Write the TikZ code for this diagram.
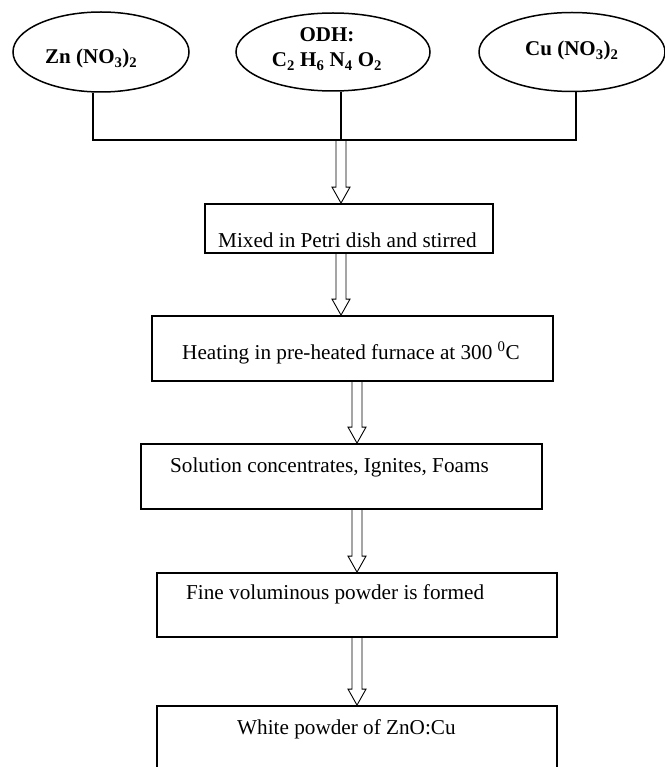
\documentclass[tikz,border=0pt]{standalone}
\usepackage{fontspec}
\setmainfont{Liberation Serif}
\usetikzlibrary{shapes.geometric,calc}

\begin{document}
\begin{tikzpicture}[
    x=1pt, y=-1pt,
    font=\fontsize{21.2}{25}\selectfont,
    reagent/.style={
        ellipse,
        draw,
        line width=1.5pt,
        inner sep=0pt
    },
    box/.style={
        rectangle,
        draw,
        line width=1.8pt,
        inner sep=0pt
    },
    txt/.style={
        anchor=base west,
        inner sep=0pt
    },
    bus/.style={
        line width=1.3pt
    },
    hollow/.style={
        line width=0.9pt,
        to path={
            let \p1=(\tikztostart), \p2=(\tikztotarget) in
            (\x1-5pt,\y1) -- (\x1-5pt,\y2+16pt) -- (\x1-9pt,\y2+16pt)
            -- (\x1,\y2) -- (\x1+9pt,\y2+16pt) -- (\x1+5pt,\y2+16pt)
            -- (\x1+5pt,\y1)
        }
    }
]
\useasboundingbox (0,0) rectangle (664,767);

% starting materials
\node[reagent, minimum width=176pt, minimum height=80pt] (zn) at (101,52) {};
\node[reagent, minimum width=194pt, minimum height=78pt] (odh) at (333,52) {};
\node[reagent, minimum width=186pt, minimum height=79pt] (cu) at (572,52) {};

\node[txt, font=\fontsize{21}{25}\selectfont\bfseries] (zntext) at (45,64)
{Zn (NO\textsubscript{3})\textsubscript{2}};
\node[anchor=base, inner sep=0pt, align=center, font=\fontsize{21}{25}\selectfont\bfseries] (odhtext) at (327,67)
{ODH:\\C\textsubscript{2} H\textsubscript{6} N\textsubscript{4} O\textsubscript{2}};
\node[txt, font=\fontsize{21}{25}\selectfont\bfseries] (cutext) at (525,56)
{Cu (NO\textsubscript{3})\textsubscript{2}};

% process steps
\node[box, minimum width=288pt, minimum height=49pt] (mix) at (349,228.5) {};
\node[box, minimum width=401pt, minimum height=65pt] (heat) at (352.5,348.5) {};
\node[box, minimum width=401pt, minimum height=65pt] (sol) at (341.5,476.5) {};
\node[box, minimum width=400pt, minimum height=64pt] (fine) at (357,605) {};
\node[box, minimum width=400pt, minimum height=94pt] (white) at (357,753) {};

\node[txt] (mixtext) at (218,247) {Mixed in Petri dish and stirred};
\node[txt] (heattext) at (182,359) {Heating in pre-heated furnace at 300 \textsuperscript{0}C};
\node[txt] (soltext) at (170,472) {Solution concentrates, Ignites, Foams};
\node[txt] (finetext) at (186,599) {Fine voluminous powder is formed};
\node[txt] (whitetext) at (237,734) {White powder of ZnO:Cu};

% joining lines
\coordinate (busL) at (93,140);
\coordinate (busM) at (341,140);
\coordinate (busR) at (576,140);
\draw[bus] (busL |- zn.south) -- (busL) -- (busR) -- (busR |- cu.south);
\draw[bus] (busM |- odh.south) -- (busM);

% hollow arrows
\draw[hollow] (busM) to (mix.north);
\draw[hollow] (mix.south -| busM) to (heat.north);
\draw[hollow] (heat.south -| fine.north) to (sol.north);
\draw[hollow] (sol.south -| fine.north) to (fine.north);
\draw[hollow] (fine.south) to (white.north);

\end{tikzpicture}
\end{document}
